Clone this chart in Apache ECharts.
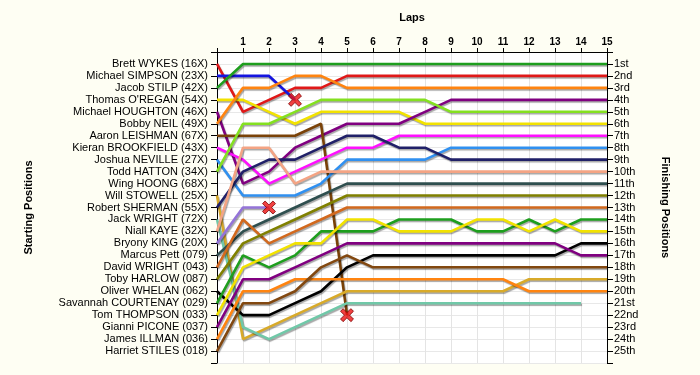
<!DOCTYPE html>
<html><head><meta charset="utf-8">
<script src="https://cdn.jsdelivr.net/npm/echarts@6/dist/echarts.min.js"></script>
<style>html,body{margin:0;padding:0;background:#fefef3;}#c{width:700px;height:375px;}</style>
</head><body><div id="c"></div>
<script>
// ---- DATA ----
const laps = [0,1,2,3,4,5,6,7,8,9,10,11,12,13,14,15];
const startingNames = [
 'Brett WYKES (16X)','Michael SIMPSON (23X)','Jacob STILP (42X)','Thomas O\'REGAN (54X)',
 'Michael HOUGHTON (46X)','Bobby NEIL (49X)','Aaron LEISHMAN (67X)','Kieran BROOKFIELD (43X)',
 'Joshua NEVILLE (27X)','Todd HATTON (34X)','Wing HOONG (68X)','Will STOWELL (25X)',
 'Robert SHERMAN (55X)','Jack WRIGHT (72X)','Niall KAYE (32X)','Bryony KING (20X)',
 'Marcus Pett (079)','David WRIGHT (043)','Toby HARLOW (087)','Oliver WHELAN (062)',
 'Savannah COURTENAY (029)','Tom THOMPSON (033)','Gianni PICONE (037)','James ILLMAN (036)',
 'Harriet STILES (018)'];
const finishLabels = ['1st','2nd','3rd','4th','5th','6th','7th','8th','9th','10th','11th','12th',
 '13th','14th','15th','16th','17th','18th','19th','20th','21st','22nd','23rd','24th','25th'];

// race positions per lap (lap 0 = grid)
const posBrettWykes       = [1,5,4,3,3,2,2,2,2,2,2,2,2,2,2,2];
const posMichaelSimpson   = [2,2,2,4];
const posJacobStilp       = [3,1,1,1,1,1,1,1,1,1,1,1,1,1,1,1];
const posThomasORegan     = [4,4,5,6,5,5,5,5,6,6,6,6,6,6,6,6];
const posMichaelHoughton  = [5,11,10,8,7,6,6,6,5,4,4,4,4,4,4,4];
const posBobbyNeil        = [6,3,3,2,2,3,3,3,3,3,3,3,3,3,3,3];
const posAaronLeishman    = [7,7,7,7,6,22];
const posKieranBrookfield = [8,9,11,10,9,8,8,7,7,7,7,7,7,7,7,7];
const posJoshuaNeville    = [9,12,12,12,11,9,9,9,9,8,8,8,8,8,8,8];
const posToddHatton       = [10,6,6,5,4,4,4,4,4,5,5,5,5,5,5,5];
const posWillStowell      = [12,24,23,22,21,20,20,20,20,20,20,20,19,19,19,19];
const posRobertSherman    = [13,10,9,9,8,7,7,8,8,9,9,9,9,9,9,9];
const posJackWright       = [14,23,24,23,22,21,21,21,21,21,21,21,21,21,21];
const posNiallKaye        = [15,8,8,11,10,10,10,10,10,10,10,10,10,10,10,10];
const posBryonyKing       = [16,13,13];
const posMarcusPett       = [17,15,14,13,12,11,11,11,11,11,11,11,11,11,11,11];
const posDavidWright      = [18,14,16,15,14,13,13,13,13,13,13,13,13,13,13,13];
const posTobyHarlow       = [19,16,15,14,13,12,12,12,12,12,12,12,12,12,12,12];
const posOliverWhelan     = [20,22,22,21,20,18,17,17,17,17,17,17,17,17,16,16];
const posSavannahCourtenay= [21,17,18,17,15,15,15,14,14,14,15,15,14,15,14,14];
const posTomThompson      = [22,18,17,16,16,14,14,15,15,15,14,14,15,14,15,15];
const posGianniPicone     = [23,19,19,18,17,16,16,16,16,16,16,16,16,16,17,17];
const posJamesIllman      = [24,20,20,19,19,19,19,19,19,19,19,19,20,20,20,20];
const posHarrietStiles    = [25,21,21,20,18,17,18,18,18,18,18,18,18,18,18,18];
// retirements [lap, position]
const retireLaps      = [3,2,5];
const retirePositions = [4,13,22];

// ---- STYLE ----
const drivers = [
 [posBrettWykes,'#e01818'],[posMichaelSimpson,'#1414e0'],[posJacobStilp,'#1e9e1e'],
 [posThomasORegan,'#f2e200'],[posMichaelHoughton,'#800080'],[posBobbyNeil,'#ff8410'],
 [posAaronLeishman,'#7a4208'],[posKieranBrookfield,'#ff10ff'],[posJoshuaNeville,'#3090f0'],
 [posToddHatton,'#84e020'],[posWillStowell,'#d8aa2a'],[posRobertSherman,'#202068'],
 [posJackWright,'#70c8a8'],[posNiallKaye,'#f4a484'],[posBryonyKing,'#9474d8'],
 [posMarcusPett,'#2f4f4f'],[posDavidWright,'#d2691e'],[posTobyHarlow,'#808000'],
 [posOliverWhelan,'#000000'],[posSavannahCourtenay,'#1e9e1e'],[posTomThompson,'#f2e200'],
 [posGianniPicone,'#800080'],[posJamesIllman,'#ff8410'],[posHarrietStiles,'#824810']
];

const series = drivers.map(function(d){
  return {
    type:'line', showSymbol:false, silent:true,
    data: d[0].map(function(p,i){return [laps[i],p];}),
    lineStyle:{color:d[1], width:2.6, shadowColor:'rgba(0,0,0,0.35)', shadowBlur:1, shadowOffsetX:1, shadowOffsetY:1.5},
    itemStyle:{color:d[1]}, z:3
  };
});
series.push({
  type:'scatter', z:10, symbol:'path://M2,0 L5,3 L8,0 L10,2 L7,5 L10,8 L8,10 L5,7 L2,10 L0,8 L3,5 L0,2 Z',
  symbolSize:13,
  itemStyle:{color:'#ee1111', borderColor:'#7a0000', borderWidth:1},
  data: retireLaps.map(function(l,i){return [l, retirePositions[i]];})
});

const font = 'Liberation Sans, Arial, sans-serif';
const chart = echarts.init(document.getElementById('c'), null, {renderer:'canvas'});
chart.setOption({
  animation:false,
  backgroundColor:'#fefef3',
  grid:{left:217, right:93, top:52, bottom:12, show:true, backgroundColor:'#ffffff', borderWidth:0},
  xAxis:{
    type:'value', position:'top', min:0, max:15, interval:1,
    name:'Laps', nameLocation:'middle', nameGap:29,
    nameTextStyle:{fontFamily:font, fontWeight:'bold', fontSize:11, color:'#000'},
    axisLine:{show:true, lineStyle:{color:'#000', width:1}},
    axisTick:{show:true, length:4, lineStyle:{color:'#000'}},
    axisLabel:{fontFamily:font, fontSize:10, fontWeight:'bold', color:'#000', margin:5,
      formatter:function(v){return v===0?'':String(v);}},
    splitLine:{show:true, lineStyle:{color:'#e4e4e4', width:1}}
  },
  yAxis:[{
    type:'value', inverse:true, min:0, max:26, interval:1, position:'left',
    name:'Starting Positions', nameLocation:'middle', nameGap:183, nameRotate:90,
    nameTextStyle:{fontFamily:font, fontWeight:'bold', fontSize:11, color:'#000'},
    axisLine:{show:true, lineStyle:{color:'#000', width:1}},
    axisTick:{show:true, length:6, lineStyle:{color:'#000'}},
    axisLabel:{fontFamily:font, fontSize:11, color:'#000', margin:9,
      formatter:function(v){return (v>=1&&v<=25)?startingNames[v-1]:'';}},
    splitLine:{show:true, lineStyle:{color:'#e8e8e8', width:1}}
  },{
    type:'value', inverse:true, min:0, max:26, interval:1, position:'right',
    name:'Finishing Positions', nameLocation:'middle', nameGap:53, nameRotate:-90,
    nameTextStyle:{fontFamily:font, fontWeight:'bold', fontSize:11, color:'#000'},
    axisLine:{show:true, lineStyle:{color:'#000', width:1}},
    axisTick:{show:true, length:6, lineStyle:{color:'#000'}},
    axisLabel:{fontFamily:font, fontSize:11, color:'#000', margin:7,
      formatter:function(v){return (v>=1&&v<=25)?finishLabels[v-1]:'';}},
    splitLine:{show:false}
  }],
  series:series
});
</script></body></html>
